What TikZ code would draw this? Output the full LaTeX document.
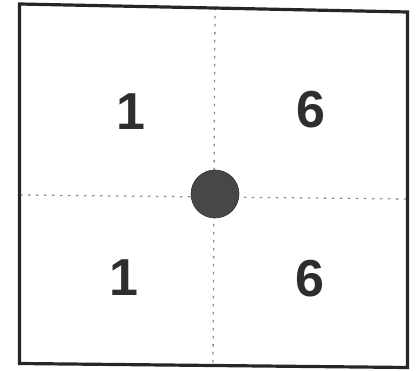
\documentclass[tikz,border=0pt]{standalone}
\usepackage{fontspec}
\setmainfont{Liberation Sans}
\begin{document}
\begin{tikzpicture}[x=1pt,y=-1pt,
  frame/.style={draw=black!85, line width=3.2pt, line join=miter},
  guide/.style={draw=black!45, line width=1.3pt, dash pattern=on 2.5pt off 5.5pt},
  digit/.style={anchor=base, inner sep=0pt, text=black!82, font=\fontsize{52}{52}\selectfont\bfseries},
  hub/.style={circle, fill=black!72, draw=black!80, line width=0.6pt, minimum size=48pt, inner sep=0pt}]
\useasboundingbox (0,0) rectangle (417,371);
% frame corners
\coordinate (tl) at (19.5,4);
\coordinate (tr) at (407.5,12);
\coordinate (br) at (407.5,367.5);
\coordinate (bl) at (19.5,363.5);
% guide end points
\coordinate (vt) at (215,8);
\coordinate (vb) at (213,365);
\coordinate (hl) at (20,195);
\coordinate (hr) at (407,199);
\draw[guide] (vt) -- (vb);
\draw[guide] (hl) -- (hr);
\draw[frame] (tl) -- (tr) -- (br) -- (bl) -- cycle;
\node[hub] (c) at (215,194) {};
\node[digit] (a) at (131,130) {1};
\node[digit] (b) at (311,128) {6};
\node[digit] (d) at (124,295) {1};
\node[digit] (e) at (310,296) {6};
\end{tikzpicture}
\end{document}
